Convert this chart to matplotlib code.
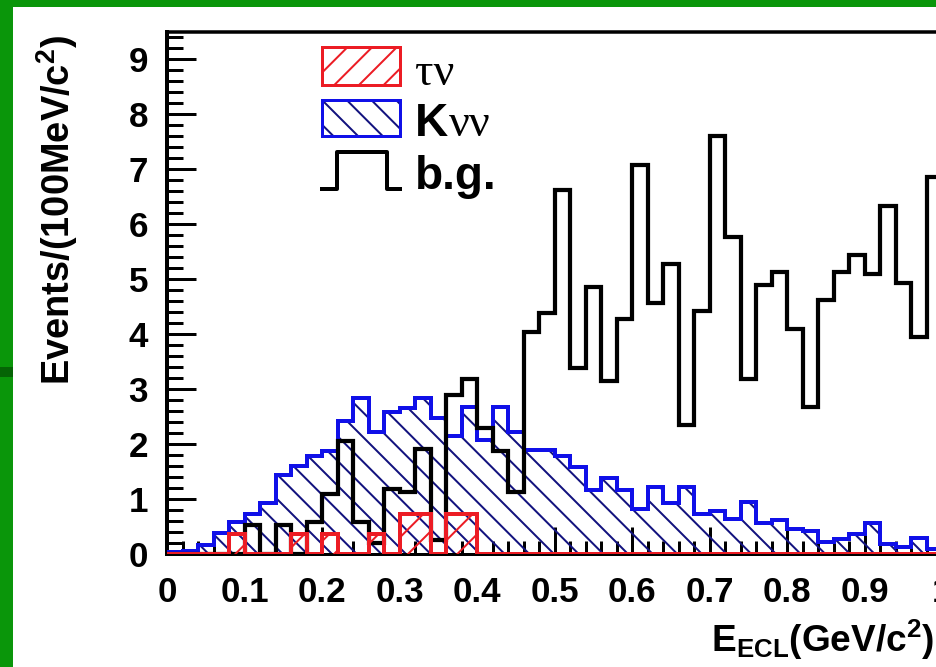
import numpy as np
import matplotlib
matplotlib.use("Agg")
import matplotlib.pyplot as plt
from matplotlib.patches import Rectangle
from matplotlib.lines import Line2D
from matplotlib.ticker import MultipleLocator, FuncFormatter

DPI = 74
W, H = 936, 667


def px(v):
    """pixels -> points at the output dpi"""
    return v * 72.0 / DPI


def fx(x):
    return x / W


def fy(y):
    # y measured from the top of the image
    return 1.0 - y / H


plt.rcParams.update({
    "font.family": "Liberation Sans",
    "font.weight": "bold",
    "mathtext.fontset": "custom",
    "mathtext.rm": "Liberation Sans:bold",
    "mathtext.it": "Liberation Sans:bold",
    "mathtext.bf": "Liberation Sans:bold",
    "hatch.linewidth": px(2.0),
})

# 50 bins of 20 MeV between 0 and 1 GeV
bin_edges = np.arange(51) * 0.02

tau_nu = [0, 0, 0, 0, 0.36, 0, 0, 0, 0.36, 0,
          0.36, 0, 0, 0.36, 0, 0.73, 0.73, 0, 0.73, 0.73,
          0, 0, 0, 0, 0, 0, 0, 0, 0, 0,
          0, 0, 0, 0, 0, 0, 0, 0, 0, 0,
          0, 0, 0, 0, 0, 0, 0, 0, 0, 0]

k_nunu = [0.04, 0.06, 0.16, 0.38, 0.58, 0.72, 0.92, 1.43, 1.60, 1.78,
          1.88, 2.41, 2.83, 2.22, 2.58, 2.66, 2.83, 2.48, 2.15, 2.67,
          2.08, 2.68, 2.22, 1.90, 1.90, 1.79, 1.59, 1.17, 1.38, 1.17,
          0.82, 1.22, 0.93, 1.22, 0.72, 0.78, 0.63, 0.94, 0.57, 0.62,
          0.45, 0.41, 0.22, 0.28, 0.36, 0.56, 0.19, 0.13, 0.30, 0.10]

background = [0, 0, 0, 0, 0, 0.53, 0, 0.53, 0, 0.59,
              1.10, 2.05, 0.59, 0.20, 1.18, 1.13, 1.91, 0.25, 2.89, 3.19,
              2.29, 1.87, 1.13, 4.04, 4.39, 6.62, 3.38, 4.86, 3.15, 4.27,
              7.07, 4.56, 5.27, 2.35, 4.42, 7.60, 5.77, 3.18, 4.90, 5.12,
              4.10, 2.67, 4.62, 5.13, 5.44, 5.09, 6.33, 4.92, 3.95, 6.85]

y_ticks = list(range(10))

GREEN = "#0a960a"
RED = "#ec1c24"
BLUE = "#1010e8"
BLUE_HATCH = "#12127e"

fig = plt.figure(figsize=(W / DPI, H / DPI), dpi=DPI)
fig.patch.set_facecolor(GREEN)
# white panel of the slide
fig.add_artist(Rectangle((fx(13), 0), 1, fy(7), transform=fig.transFigure,
                         facecolor="white", edgecolor="none", zorder=-5))
fig.add_artist(Rectangle((0, fy(377)), fx(13), 10 / H, transform=fig.transFigure,
                         facecolor="#056405", edgecolor="none", zorder=-5))

ax = fig.add_axes([fx(167), (H - 554) / H, 775 / W, 522.5 / H])
ax.set_xlim(0, 1)
ax.set_ylim(0, 9.5)

# K nu nu: hatched fill + outline
ax.stairs(k_nunu, bin_edges, baseline=0, fill=True, facecolor="none",
          edgecolor=BLUE_HATCH, hatch="\\", linewidth=0, zorder=2)
ax.stairs(k_nunu, bin_edges, baseline=0, color=BLUE, linewidth=px(4), zorder=3)
# background
ax.stairs(background, bin_edges, baseline=0, color="black", linewidth=px(4.2), zorder=4)
# tau nu signal
ax.stairs(tau_nu, bin_edges, baseline=0, fill=True, facecolor="none",
          edgecolor=RED, hatch="/", linewidth=0, zorder=5)
ax.stairs(tau_nu, bin_edges, baseline=0, color=RED, linewidth=px(4), zorder=6)

ax.spines["right"].set_visible(False)
ax.spines["left"].set_linewidth(px(4))
ax.spines["top"].set_linewidth(px(3.5))
ax.spines["bottom"].set_linewidth(px(3))

ax.xaxis.set_major_locator(MultipleLocator(0.1))
ax.xaxis.set_minor_locator(MultipleLocator(0.02))
ax.set_yticks(y_ticks)
ax.yaxis.set_minor_locator(MultipleLocator(0.2))
ax.xaxis.set_major_formatter(FuncFormatter(lambda v, _: f"{v:g}"))

ax.tick_params(which="both", direction="in", width=px(3), top=False, right=False)
ax.tick_params(axis="y", which="major", length=px(29), pad=px(19), labelsize=px(35))
ax.tick_params(axis="y", which="minor", length=px(16))
ax.tick_params(axis="x", which="major", length=px(27), pad=px(22), labelsize=px(35))
ax.tick_params(axis="x", which="minor", length=px(13))

fig.text(fx(57), fy(35), r"$\mathrm{Events/(100MeV/c^{2})}$", rotation=90,
         ha="center", va="top", fontsize=px(38))
fig.text(fx(711), fy(652), r"$\mathrm{E_{ECL}(GeV/c^{2})}$",
         ha="left", va="baseline", fontsize=px(37))

# legend, drawn by hand
fig.add_artist(Rectangle((fx(322), fy(85)), 78 / W, 38 / H, transform=fig.transFigure,
                         facecolor="none", edgecolor=RED, hatch="/", linewidth=px(3)))
fig.add_artist(Rectangle((fx(322), fy(136)), 78 / W, 36 / H, transform=fig.transFigure,
                         facecolor="none", edgecolor=BLUE_HATCH, hatch="\\", linewidth=0))
fig.add_artist(Rectangle((fx(322), fy(136)), 78 / W, 36 / H, transform=fig.transFigure,
                         facecolor="none", edgecolor=BLUE, linewidth=px(3)))
fig.add_artist(Line2D([fx(322), fx(337), fx(337), fx(387), fx(387), fx(400)],
                      [fy(189), fy(189), fy(152), fy(152), fy(189), fy(189)],
                      transform=fig.transFigure, color="black", linewidth=px(4)))

fig.text(fx(415), fy(85), "τν", family="Liberation Serif", fontweight="normal",
         fontsize=px(46), va="baseline")
fig.text(fx(415), fy(136), "K", fontsize=px(46), va="baseline")
fig.text(fx(449), fy(136), "νν", family="Liberation Serif", fontweight="normal",
         fontsize=px(46), va="baseline")
fig.text(fx(415), fy(189), "b.g.", fontsize=px(46), va="baseline")

fig.savefig("out.png", dpi=DPI, facecolor=fig.get_facecolor())
